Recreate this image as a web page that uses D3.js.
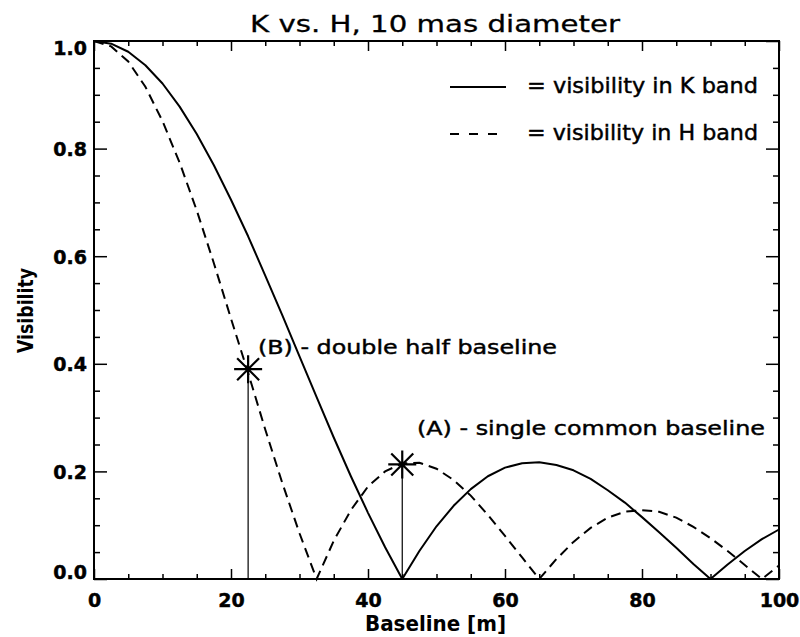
<!DOCTYPE html>
<html><head><meta charset="utf-8">
<script src="https://cdn.jsdelivr.net/npm/d3@7"></script>
<style>body{margin:0;background:#fff} text{font-family:"DejaVu Sans",sans-serif;fill:#000;stroke:#000;stroke-width:0.45px}</style>
</head><body><svg id="c" width="800" height="637"></svg>
<script>
// ---- data ----
const baselines = [0,2.5,5,7.5,10,12.5,15,17.5,20,22.5,25,27.5,30,32.5,35,37.5,40,42.5,45,47.5,50,52.5,55,57.5,60,62.5,65,67.5,70,72.5,75,77.5,80,82.5,85,87.5,90,92.5,95,97.5,100];
const kVisibility = [1,0.995,0.980,0.955,0.921,0.878,0.827,0.769,0.705,0.637,0.564,0.490,0.414,0.338,0.263,0.191,0.123,0.059,0,0.052,0.098,0.136,0.167,0.191,0.207,0.215,0.217,0.212,0.202,0.186,0.165,0.142,0.115,0.087,0.058,0.028,0,0.027,0.052,0.074,0.092];
const hVisibility = [1,0.990,0.962,0.915,0.851,0.774,0.685,0.587,0.484,0.383,0.278,0.178,0.085,0,0.071,0.128,0.172,0.200,0.215,0.216,0.205,0.184,0.155,0.119,0.080,0.040,0,0.037,0.069,0.095,0.114,0.125,0.128,0.125,0.114,0.097,0.076,0.052,0.026,0,0.025];
const markerBaselines = [22.5, 45];
const markerVisibility = [0.39, 0.213];
const xTicks = [0,20,40,60,80,100];
const yTicks = [0,0.2,0.4,0.6,0.8,1.0];
const titleText = "K vs. H, 10 mas diameter";
const xLabel = "Baseline [m]";
const yLabel = "Visibility";
const legendLabels = ["= visibility in K band", "= visibility in H band"];
const annotations = ["(B) - double half baseline", "(A) - single common baseline"];

// ---- chart ----
const svg = d3.select("#c");
const L=94, R=779, T=41, B=579;
const x = d3.scaleLinear([0,100],[L,R]);
const y = d3.scaleLinear([0,1],[B,T]);

function styleAxis(g){ g.select(".domain").remove(); g.selectAll(".tick line").attr("stroke","#000").attr("stroke-width",1.5); }

// minor ticks
const xMinor = d3.range(0,101,5).filter(v=>v%20!==0);
const yMinor = d3.range(0,1.0001,0.05).filter((v,i)=>i%4!==0);
svg.append("g").attr("transform",`translate(0,${B})`).call(d3.axisBottom(x).tickValues(xMinor).tickSizeInner(-5).tickSizeOuter(0).tickFormat("")).call(styleAxis);
svg.append("g").attr("transform",`translate(0,${T})`).call(d3.axisTop(x).tickValues(xMinor).tickSizeInner(-5).tickSizeOuter(0).tickFormat("")).call(styleAxis);
svg.append("g").attr("transform",`translate(${L},0)`).call(d3.axisLeft(y).tickValues(yMinor).tickSizeInner(-6).tickSizeOuter(0).tickFormat("")).call(styleAxis);
svg.append("g").attr("transform",`translate(${R},0)`).call(d3.axisRight(y).tickValues(yMinor).tickSizeInner(-6).tickSizeOuter(0).tickFormat("")).call(styleAxis);

// major ticks
const gx = svg.append("g").attr("transform",`translate(0,${B})`)
  .call(d3.axisBottom(x).tickValues(xTicks).tickSizeInner(-10).tickSizeOuter(0).tickPadding(0).tickFormat(d3.format("d"))).call(styleAxis);
gx.selectAll("text").attr("y",28).attr("dy",null).style("font-size","19px").style("font-weight","bold").attr("fill","#000");
svg.append("g").attr("transform",`translate(0,${T})`).call(d3.axisTop(x).tickValues(xTicks).tickSizeInner(-10).tickSizeOuter(0).tickFormat("")).call(styleAxis);
const gy = svg.append("g").attr("transform",`translate(${L},0)`)
  .call(d3.axisLeft(y).tickValues(yTicks).tickSizeInner(-13).tickSizeOuter(0).tickPadding(0).tickFormat(d3.format(".1f"))).call(styleAxis);
gy.selectAll("text").attr("x",-7).attr("dy","0.36em").style("font-size","19px").style("font-weight","bold").attr("fill","#000")
  .attr("transform",d=> d===1 ? "translate(0,7)" : d===0 ? "translate(0,-7)" : null);
svg.append("g").attr("transform",`translate(${R},0)`).call(d3.axisRight(y).tickValues(yTicks).tickSizeInner(-13).tickSizeOuter(0).tickFormat("")).call(styleAxis);

// frame
svg.append("rect").attr("x",L).attr("y",T).attr("width",R-L).attr("height",B-T).attr("fill","none").attr("stroke","#000").attr("stroke-width",2);

// curves
const line = d3.line().x(d=>x(d[0])).y(d=>y(d[1]));
const kData = baselines.map((b,i)=>[b,kVisibility[i]]);
const hData = baselines.map((b,i)=>[b,hVisibility[i]]);
svg.append("path").datum(kData).attr("d",line).attr("fill","none").attr("stroke","#000").attr("stroke-width",2).attr("stroke-linejoin","round");
svg.append("path").datum(hData).attr("d",line).attr("fill","none").attr("stroke","#000").attr("stroke-width",2).attr("stroke-dasharray","10,6");

// markers
markerBaselines.forEach((b,i)=>{
  const cx=x(b), cy=y(markerVisibility[i]);
  svg.append("line").attr("x1",cx).attr("x2",cx).attr("y1",y(0)).attr("y2",cy).attr("stroke","#000").attr("stroke-width",1.2);
  const s=14, d=11;
  const p=`M${cx-s},${cy}L${cx+s},${cy}M${cx},${cy-s}L${cx},${cy+s}M${cx-d},${cy-d}L${cx+d},${cy+d}M${cx-d},${cy+d}L${cx+d},${cy-d}`;
  svg.append("path").attr("d",p).attr("stroke","#000").attr("stroke-width",2.2).attr("fill","none");
});

// legend
svg.append("line").attr("x1",450).attr("x2",506).attr("y1",87).attr("y2",87).attr("stroke","#000").attr("stroke-width",2);
svg.append("line").attr("x1",450).attr("x2",497).attr("y1",134).attr("y2",134).attr("stroke","#000").attr("stroke-width",2).attr("stroke-dasharray","9,10");
svg.append("text").attr("x",527).attr("y",93).attr("textLength",231).attr("lengthAdjust","spacingAndGlyphs").style("font-size","21px").text(legendLabels[0]);
svg.append("text").attr("x",527).attr("y",140).attr("textLength",231).attr("lengthAdjust","spacingAndGlyphs").style("font-size","21px").text(legendLabels[1]);

// annotations
svg.append("text").attr("x",258).attr("y",354).attr("textLength",299).attr("lengthAdjust","spacingAndGlyphs").style("font-size","20px").text(annotations[0]);
svg.append("text").attr("x",417).attr("y",435).attr("textLength",348).attr("lengthAdjust","spacingAndGlyphs").style("font-size","20px").text(annotations[1]);

// title and axis labels
svg.append("text").attr("x",250).attr("y",32).attr("textLength",370).attr("lengthAdjust","spacingAndGlyphs").style("font-size","23px").style("stroke-width","0.3px").text(titleText);
svg.append("text").attr("x",365).attr("y",631).attr("textLength",141).attr("lengthAdjust","spacingAndGlyphs").style("font-size","21px").style("font-weight","bold").style("stroke-width","0px").text(xLabel);
svg.append("text").attr("transform","translate(33,353) rotate(-90)").attr("textLength",85).attr("lengthAdjust","spacingAndGlyphs").style("font-size","21px").style("font-weight","bold").style("stroke-width","0px").text(yLabel);
</script></body></html>
